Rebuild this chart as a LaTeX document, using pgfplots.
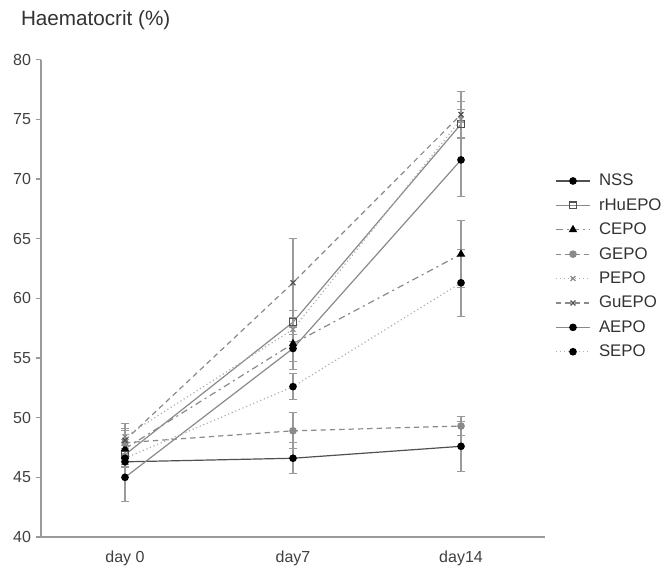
\documentclass[border=0pt]{standalone}
\usepackage{fontspec}
\setmainfont{Liberation Sans}
\usepackage{pgfplots}
\pgfplotsset{compat=1.18}
\definecolor{axgray}{HTML}{9A9A9A}
\definecolor{ln1}{HTML}{505050}
\definecolor{ln2}{HTML}{8A8A8A}
\definecolor{ln3}{HTML}{B0B0B0}
\begin{document}
\begin{tikzpicture}
\useasboundingbox (-30.75pt,-26.25pt) rectangle (471.75pt,402.75pt);
\begin{axis}[
    at={(0pt,0pt)}, anchor=south west,
    scale only axis,
    width=378pt, height=358pt,
    xmin=-0.5, xmax=2.5,
    ymin=40, ymax=80,
    ytick={40,45,...,80},
    xtick={0,1,2},
    xticklabels={day 0,day7,day14},
    major x tick style={draw=none},
    extra x ticks={0.5,1.5,2.5},
    extra x tick labels={},
    extra x tick style={major tick length=4pt, tick align=outside},
    tick align=outside,
    major tick length=4pt,
    axis lines*=left,
    axis line style={axgray, line width=0.9pt},
    every tick/.style={axgray, line width=0.9pt},
    tick label style={font=\fontsize{12}{14}\selectfont, text=black!75},
    /pgf/number format/assume math mode=true,
    xticklabel style={yshift=-3pt},
    clip=false,
    legend cell align=left,
    legend style={draw=none, fill=none, at={(1.012,0.772)}, anchor=north west,
        font=\fontsize{12.6}{14.5}\selectfont, row sep=4pt, text=black!80},
    legend image code/.code={\draw[mark repeat=2,mark phase=2] plot coordinates {(0cm,0cm) (0.45cm,0cm) (0.9cm,0cm)};
        \path (0cm,0cm) (1.05cm,0cm);},
    error bars/y dir=both, error bars/y explicit,
    error bars/error bar style={axgray, line width=0.8pt, solid},
    error bars/error mark options={rotate=90, axgray, mark size=3.2pt, line width=0.8pt, solid},
]
% NSS
\addplot[ln1, line width=0.9pt, mark=*, mark size=2.4pt, mark options={solid, fill=black, draw=black}]
  coordinates {(0,46.3) +- (0,0.4) (1,46.6) +- (0,1.3) (2,47.6) +- (0,2.1)};
% rHuEPO
\addplot[ln2, line width=0.9pt, mark=square, mark size=2.6pt, mark options={solid, fill=white, draw=ln1}]
  coordinates {(0,46.9) +- (0,0.8) (1,58.0) +- (0,1.0) (2,74.6) +- (0,1.2)};
% CEPO
\addplot[ln2, line width=0.9pt, dash pattern=on 5pt off 3pt on 1.5pt off 3pt, mark=triangle*, mark size=2.8pt, mark options={solid, fill=black, draw=black}]
  coordinates {(0,47.4) +- (0,0.8) (1,56.2) +- (0,1.5) (2,63.7) +- (0,2.8)};
% GEPO
\addplot[ln2, line width=0.9pt, dash pattern=on 4pt off 3pt, mark=*, mark size=2.4pt, mark options={solid, fill=ln2, draw=ln2}]
  coordinates {(0,47.9) +- (0,1.0) (1,48.9) +- (0,1.5) (2,49.3) +- (0,0.8)};
% PEPO
\addplot[ln3, line width=0.9pt, dotted, mark=x, mark size=2.6pt, mark options={solid, draw=ln2}]
  coordinates {(0,48.4) +- (0,0.7) (1,57.4) +- (0,1.0) (2,75.0) +- (0,1.5)};
% GuEPO
\addplot[ln2, line width=0.9pt, dash pattern=on 4pt off 3pt, mark=x, mark size=2.6pt, mark options={solid, draw=ln1}]
  coordinates {(0,48.1) +- (0,1.4) (1,61.3) +- (0,3.7) (2,75.4) +- (0,1.9)};
% AEPO
\addplot[ln2, line width=0.9pt, mark=*, mark size=2.4pt, mark options={solid, fill=black, draw=black}]
  coordinates {(0,45.0) +- (0,2.0) (1,55.8) +- (0,1.8) (2,71.6) +- (0,3.1)};
% SEPO
\addplot[ln3, line width=0.9pt, dotted, mark=*, mark size=2.4pt, mark options={solid, fill=black, draw=black}]
  coordinates {(0,46.6) +- (0,0.8) (1,52.6) +- (0,1.1) (2,61.3) +- (0,2.8)};
\legend{NSS,rHuEPO,CEPO,GEPO,PEPO,GuEPO,AEPO,SEPO}
\end{axis}
\node[anchor=west, font=\fontsize{15.5}{17}\selectfont, text=black!80] at (-18.5pt,387.5pt) {Haematocrit (\%)};
\end{tikzpicture}
\end{document}
